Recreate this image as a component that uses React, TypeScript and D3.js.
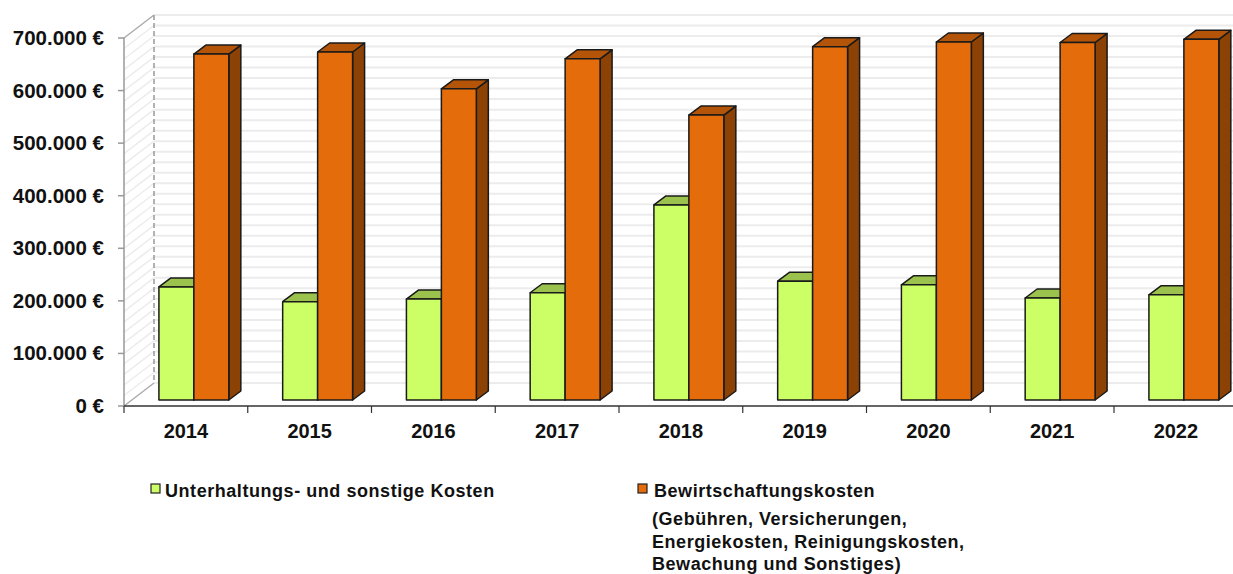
import React from 'react'
import * as d3 from 'd3'

const years = ['2014', '2015', '2016', '2017', '2018', '2019', '2020', '2021', '2022']
const unterhaltung = [215000, 187000, 192000, 204000, 371000, 226000, 219000, 194000, 200000]
const bewirtschaftung = [658000, 662000, 592000, 649000, 542000, 672000, 681000, 680000, 686000]
const yTicks = [0, 100000, 200000, 300000, 400000, 500000, 600000, 700000]
const legend1 = ['Unterhaltungs- und sonstige Kosten']
const legend2 = ['Bewirtschaftungskosten', '(Gebühren, Versicherungen,', 'Energiekosten, Reinigungskosten,', 'Bewachung und Sonstiges)']

const W = 1233
const H = 574
const font = '"Liberation Sans", Arial, sans-serif'

const series = [
  {key: 'u', values: unterhaltung, front: '#ccff66', top: '#9bc24c', side: '#7fa03a'},
  {key: 'b', values: bewirtschaftung, front: '#e46c0a', top: '#b45408', side: '#8c4204'},
]

const de = d3.formatLocale({decimal: ',', thousands: '.', grouping: [3], currency: ['', ' €']})
const fmt = (v: number) => de.format(',')(v) + ' €'

const App = () => {
  const x0 = 124
  const y0 = 406
  const depthX = 30
  const depthY = -23
  // bars sit a little way into the floor
  const barShiftX = 8
  const barShiftY = -6
  const barDX = 12
  const barDY = -9

  const y = d3.scaleLinear().domain([0, 700000]).range([y0, 38])
  const x = d3.scaleBand().domain(years).range([x0, x0 + 9 * 123.75]).padding(0)
  const inner = d3
    .scaleBand()
    .domain(series.map(s => s.key))
    .range([0, x.bandwidth()])
    .paddingInner(0)
    .paddingOuter(0.77)

  const grid = d3.range(0, 700001, 20000)
  const legendStyle = {fontFamily: font, fontWeight: 'bold' as const, fontSize: 18, letterSpacing: 0.55}

  return (
    <svg width={W} height={H} style={{position: 'absolute', left: 0, top: 0, background: '#fff'}}>
      {/* back wall grid */}
      {grid.map(g => (
        <line
          key={'g' + g}
          x1={x0 + depthX}
          x2={W}
          y1={y(g) + depthY}
          y2={y(g) + depthY}
          stroke="#ececec"
          strokeWidth={2}
        />
      ))}
      {/* side wall grid */}
      {grid.map(g => (
        <line
          key={'s' + g}
          x1={x0}
          x2={x0 + depthX}
          y1={y(g)}
          y2={y(g) + depthY}
          stroke="#ececec"
          strokeWidth={1.5}
        />
      ))}
      <line x1={x0 + depthX} x2={x0 + depthX} y1={y(700000) + depthY} y2={y0 + depthY} stroke="#999" strokeWidth={1.5} strokeDasharray="5,3" />
      <line x1={x0} x2={x0 + depthX} y1={y(700000)} y2={y(700000) + depthY} stroke="#aaa" strokeWidth={1.2} />
      <line x1={x0} x2={x0 + depthX} y1={y0} y2={y0 + depthY} stroke="#aaa" strokeWidth={1.2} />

      {/* bars */}
      {years.map((yr, i) => (
        <g key={yr}>
          {series.map(s => {
            const bx = (x(yr) as number) + (inner(s.key) as number) + barShiftX
            const bw = inner.bandwidth()
            const by = y(s.values[i]) + barShiftY
            const bb = y0 + barShiftY
            const top = `M${bx},${by} L${bx + barDX},${by + barDY} L${bx + bw + barDX},${by + barDY} L${bx + bw},${by} Z`
            const side = `M${bx + bw},${by} L${bx + bw + barDX},${by + barDY} L${bx + bw + barDX},${bb + barDY} L${bx + bw},${bb} Z`
            return (
              <g key={s.key} stroke="#1a1a1a" strokeWidth={1.5} strokeLinejoin="round">
                <path d={side} fill={s.side} />
                <path d={top} fill={s.top} />
                <rect x={bx} y={by} width={bw} height={bb - by} fill={s.front} />
              </g>
            )
          })}
        </g>
      ))}

      {/* y axis */}
      <line x1={x0} x2={x0} y1={y(700000)} y2={y0} stroke="#999" strokeWidth={1.5} />
      {yTicks.map(t => (
        <g key={t}>
          <line x1={x0 - 6} x2={x0} y1={y(t)} y2={y(t)} stroke="#999" strokeWidth={1.5} />
          <text x={104} y={y(t) + 7} textAnchor="end" fontFamily={font} fontWeight="bold" fontSize={20.5} fill="#111">
            {fmt(t)}
          </text>
        </g>
      ))}

      {/* x axis */}
      <line x1={x0} x2={W} y1={y0} y2={y0} stroke="#333" strokeWidth={1.5} />
      {years.map(yr => (
        <g key={'t' + yr}>
          <line x1={(x(yr) as number)} x2={(x(yr) as number)} y1={y0} y2={y0 + 7} stroke="#333" strokeWidth={1.2} />
          <text
            x={(x(yr) as number) + x.bandwidth() / 2}
            y={438}
            textAnchor="middle"
            fontFamily={font}
            fontWeight="bold"
            fontSize={20}
            fill="#111"
          >
            {yr}
          </text>
        </g>
      ))}

      {/* legend */}
      <rect x={151} y={484} width={9} height={9} fill={series[0].front} stroke="#222" strokeWidth={1.2} />
      {legend1.map((l, i) => (
        <text key={l} x={165} y={497 + i * 23} {...legendStyle} fill="#111">
          {l}
        </text>
      ))}
      <rect x={638} y={484} width={9} height={9} fill={series[1].front} stroke="#222" strokeWidth={1.2} />
      {legend2.map((l, i) => (
        <text key={l} x={i === 0 ? 654 : 652} y={i === 0 ? 497 : 525 + (i - 1) * 22.5} {...legendStyle} fill="#111">
          {l}
        </text>
      ))}
    </svg>
  )
}

export default App
